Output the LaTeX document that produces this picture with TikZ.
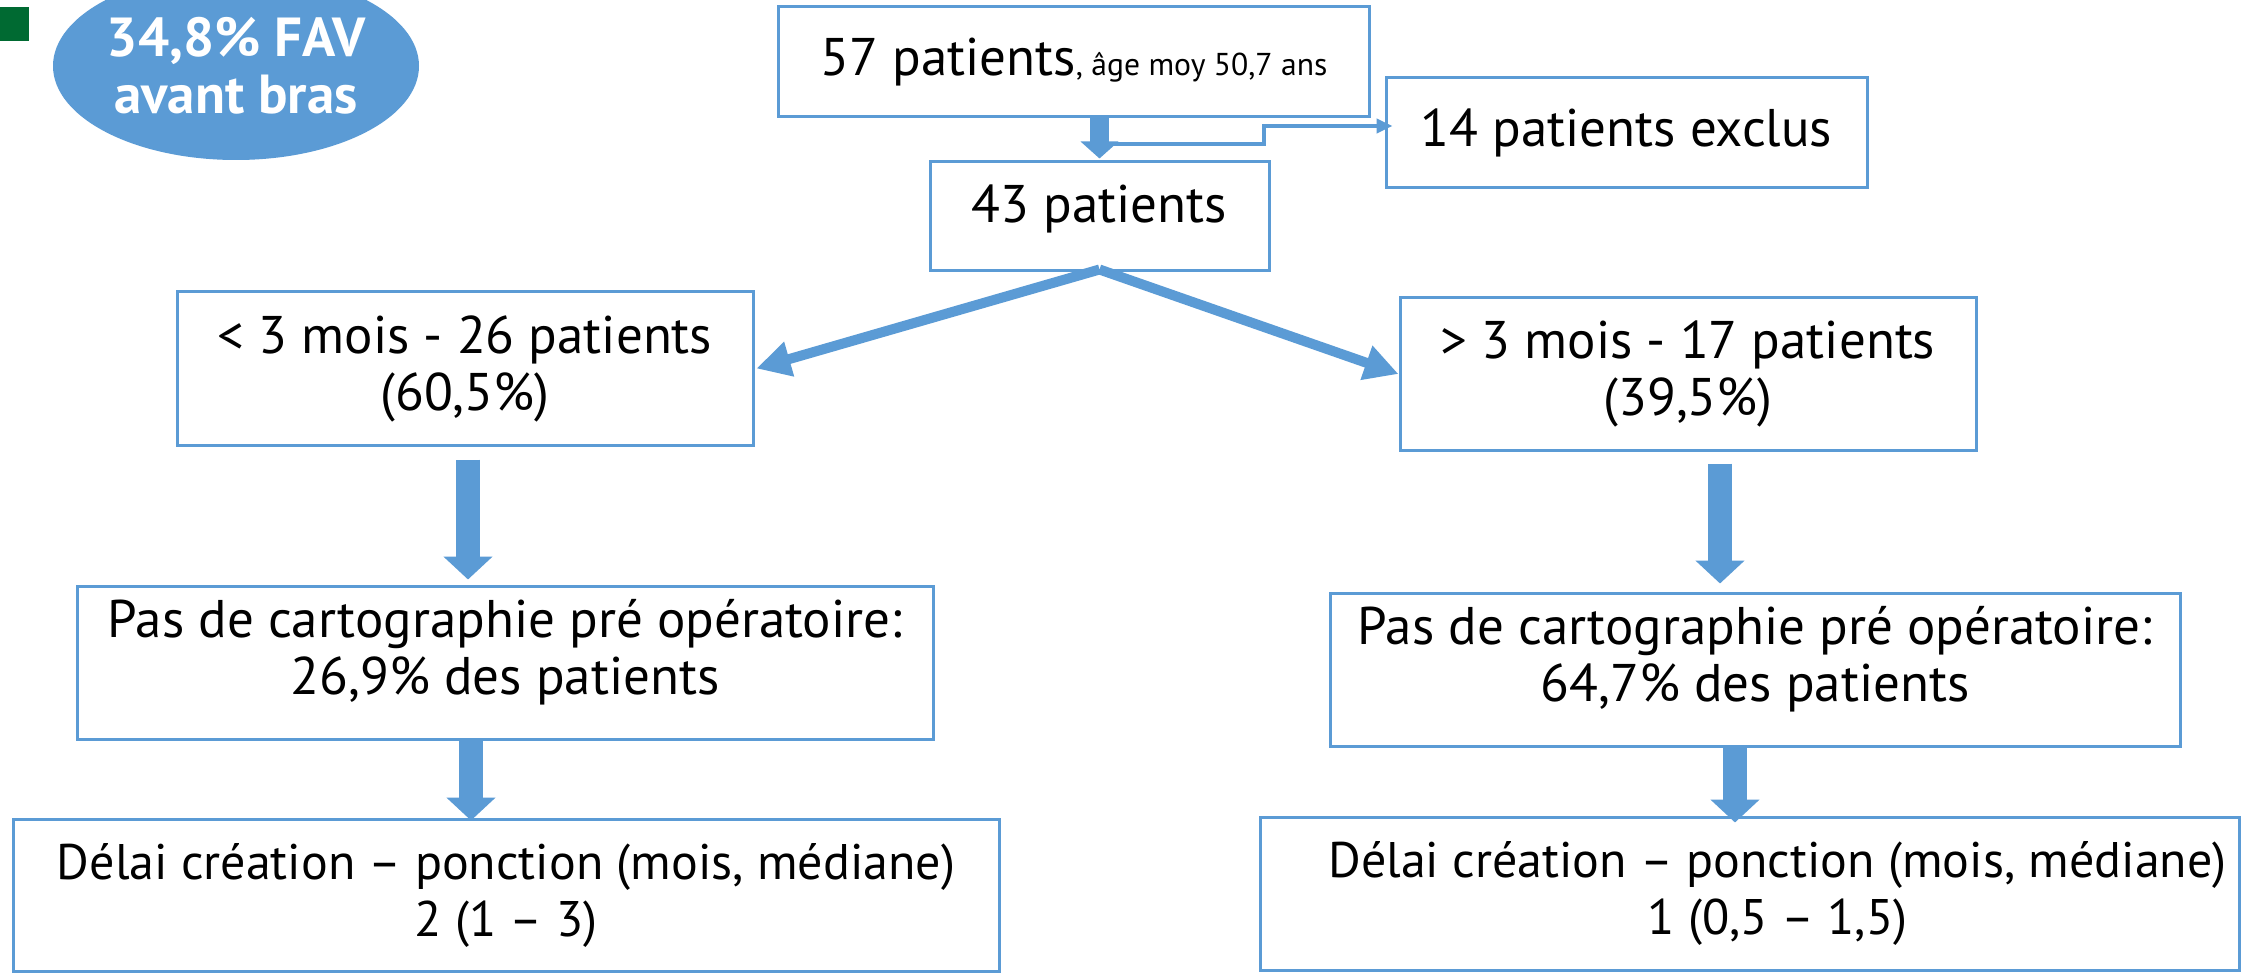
\documentclass[tikz,border=0pt]{standalone}
\usepackage{fontspec}
\setmainfont{PT Sans}
\usetikzlibrary{arrows.meta,shapes.geometric,calc}
\definecolor{bl}{RGB}{91,155,213}
\definecolor{gr}{RGB}{0,106,50}
\begin{document}
\begin{tikzpicture}[x=0.5pt,y=-0.5pt,
  box/.style={draw=bl,line width=1.5pt,fill=white,inner sep=0pt,align=center,
    font=\fontsize{26.5}{28.5}\selectfont},
  delaybox/.style={box,font=\fontsize{25}{28.5}\selectfont},
  bigarrow/.style={draw=bl,line width=12pt,-{Triangle[width=24pt,length=11.5pt]}},
  midarrow/.style={draw=bl,line width=9.5pt,-{Triangle[width=18.5pt,length=8.5pt]}},
  diagarrow/.style={draw=bl,line width=5pt,-{Triangle[width=17pt,length=17pt]}},
  thinarrow/.style={draw=bl,line width=2pt,-{Triangle[width=7pt,length=8pt]}}
]
\useasboundingbox (0,0) rectangle (2250,973);
\fill[white] (0,0) rectangle (2250,973);

% green bullet
\node[fill=gr,minimum width=14.5pt,minimum height=17pt,inner sep=0pt] (bullet) at (14.5,24) {};
% ellipse
\node[ellipse,fill=bl,minimum width=183pt,minimum height=94pt,inner sep=0pt,
  text=white,align=center,font=\fontsize{27.5}{28.5}\selectfont\bfseries] (fav) at (236,66)
  {34,8\% FAV\\avant bras};

% boxes
\node[box,minimum width=295.5pt,minimum height=55pt] (n57) at (1074,62)
  {57 patients{\fontsize{15.8}{17}\selectfont, âge moy 50,7 ans}};
\node[box,minimum width=240.5pt,minimum height=55pt] (n14) at (1626.5,133)
  {14 patients exclus};
\node[box,minimum width=169.5pt,minimum height=54.5pt] (n43) at (1099.5,216.5)
  {43 patients\\[-24pt]\strut};
\node[box,minimum width=288pt,minimum height=76.5pt] (nlt) at (465,368.5)
  {< 3 mois - 26 patients\\(60,5\%)};
\node[box,minimum width=288pt,minimum height=76pt] (nrt) at (1688,374)
  {> 3 mois - 17 patients\\(39,5\%)};
\node[box,minimum width=428pt,minimum height=76.5pt] (npl) at (505,662.5)
  {Pas de cartographie pré opératoire:\\26,9\% des patients\\[-21pt]\strut};
\node[box,minimum width=425pt,minimum height=76.5pt] (npr) at (1755,669.5)
  {Pas de cartographie pré opératoire:\\64,7\% des patients\\[-21pt]\strut};
\node[delaybox,minimum width=493pt,minimum height=76pt] (ndl) at (506,895)
  {Délai création – ponction (mois, médiane)\\2 (1 – 3)};
\node[delaybox,minimum width=489.5pt,minimum height=76.5pt] (ndr) at (1749.5,893.5)
  {\hspace*{28pt}Délai création – ponction (mois, médiane)\\\hspace*{28pt}1 (0,5 – 1,5)};

% top arrow and exclusion elbow
\draw[midarrow] (n43.north |- n57.south) -- ([yshift=1pt]n43.north);
\coordinate (j) at (1111,144);
\draw[thinarrow] (j) -- (1264,144) |- ([yshift=3.5pt,xshift=4pt]n14.west);

% diagonal arrows
\draw[diagarrow] ([yshift=1.5pt]n43.south) -- ([xshift=1pt]nlt.east);
\draw[diagarrow] ([yshift=1.5pt]n43.south) -- (nrt.west);

% vertical arrows
\draw[bigarrow] ([xshift=1.5pt,yshift=-6.5pt]nlt.south) -- ([xshift=1.5pt,yshift=2.5pt]nlt.south |- npl.north);
\draw[bigarrow] ([xshift=3pt]nlt.south |- npl.south) -- ([xshift=3pt,yshift=-1.5pt]nlt.south |- ndl.north);
\draw[bigarrow] ([xshift=16pt,yshift=-6pt]nrt.south) -- ([xshift=16pt,yshift=4pt]nrt.south |- npr.north);
\draw[bigarrow] ([xshift=-10pt]npr.south) -- ([xshift=-10pt,yshift=-3.5pt]npr.south |- ndr.north);
\end{tikzpicture}
\end{document}
